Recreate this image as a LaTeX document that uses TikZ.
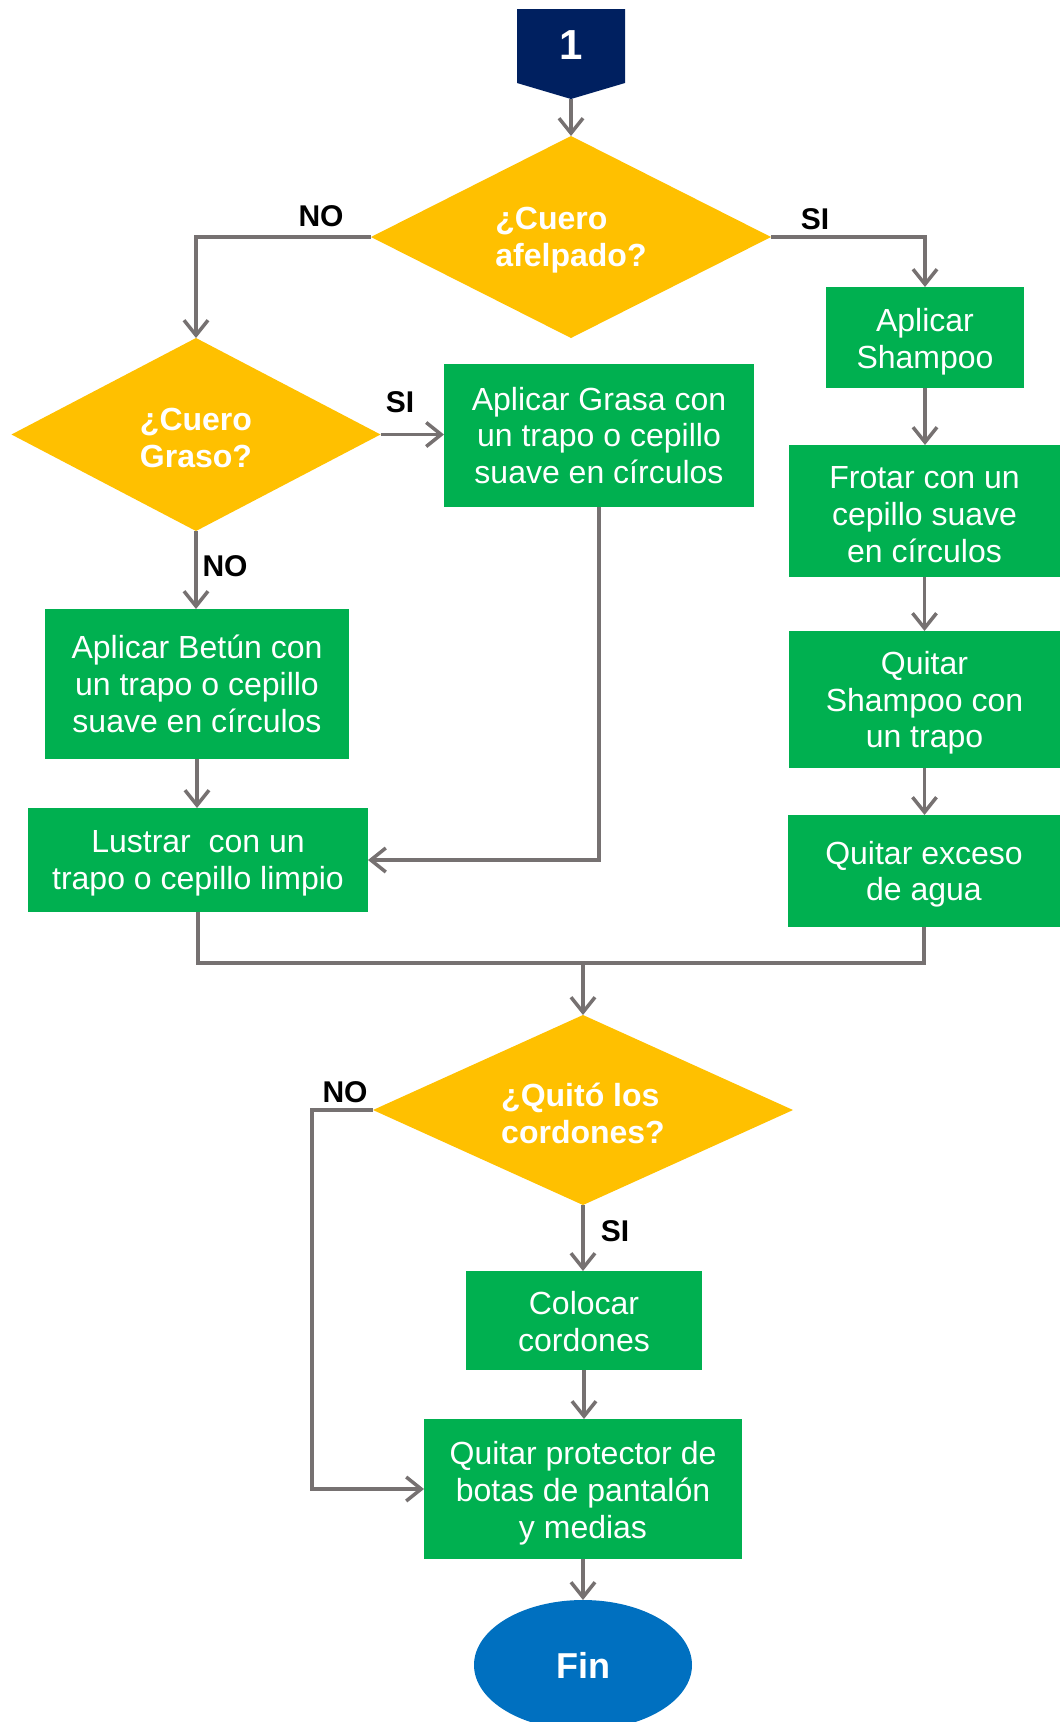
\documentclass[tikz,border=0pt]{standalone}
\usepackage{fontspec}
\setmainfont{Liberation Sans}
\usetikzlibrary{shapes.geometric,arrows.meta}
\definecolor{flowgreen}{HTML}{00B050}
\definecolor{flowyellow}{HTML}{FFC000}
\definecolor{flownavy}{HTML}{002060}
\definecolor{flowblue}{HTML}{0070C0}
\definecolor{flowgrey}{RGB}{118,113,113}
% a green process box: [text drop], name, centre, width, height, text
\newcommand\flowstep[6][0pt]{%
  \node[stepbox, minimum width=#4, minimum height=#5] (#2) at (#3) {};
  \node[steptext, yshift=-#1] (#2-text) at (#2.center) {#6};}
% a yellow decision: name, centre, width, height, text
\newcommand\flowask[5]{%
  \node[decision, minimum width=#3, minimum height=#4] (#1) at (#2) {};
  \node[asktext] (#1-text) at (#1.center) {#5};}
\begin{document}
\begin{tikzpicture}[x=1pt,y=-1pt,
  stepbox/.style={rectangle, fill=flowgreen, inner sep=0pt, outer sep=0pt},
  steptext/.style={text=white, align=center, inner sep=0pt,
    font=\fontsize{32}{36.7}\selectfont},
  decision/.style={diamond, fill=flowyellow, inner sep=0pt, outer sep=0pt},
  asktext/.style={text=white, align=left, inner sep=0pt, yshift=-3pt,
    font=\bfseries\fontsize{32}{37}\selectfont},
  answer/.style={text=black, inner sep=0pt, font=\bfseries\fontsize{30}{32}\selectfont},
  flow/.style={draw=flowgrey, line width=3.5pt},
  arr/.style={flow, -{Straight Barb[length=15pt,width=24pt]}}]
\useasboundingbox (0,0) rectangle (1060,1722);

% start connector
\fill[flownavy] (517,9) -- (625,9) -- (625,83) -- (571,99) -- (517,83) -- cycle;
\node[text=white, font=\bfseries\fontsize{42}{44}\selectfont] (start) at (571,45) {1};
\coordinate (starttip) at (571,99);

% decisions
\flowask{d1}{571,237}{400pt}{202pt}{¿Cuero\\afelpado?}
\flowask{d2}{196,434.5}{369pt}{193pt}{¿Cuero\\Graso?}
\flowask{d3}{583,1110}{420pt}{190pt}{¿Quitó los\\cordones?}

% right branch
\flowstep[4.4pt]{shampoo}{925,337.5}{198pt}{101pt}{Aplicar\\Shampoo}
\flowstep[3.8pt]{frotar}{924.5,511}{271pt}{132pt}{Frotar con un\\cepillo suave\\en círculos}
\flowstep[3.3pt]{qshampoo}{924.5,699.5}{271pt}{137pt}{Quitar\\Shampoo con\\un trapo}
\flowstep[3.3pt]{qexceso}{924,871}{272pt}{112pt}{Quitar exceso\\de agua}

% left branch
\flowstep{grasa}{599,435.5}{310pt}{143pt}{Aplicar Grasa con\\un trapo o cepillo\\suave en círculos}
\flowstep{betun}{197,684}{304pt}{150pt}{Aplicar Betún con\\un trapo o cepillo\\suave en círculos}
\flowstep[3.3pt]{lustrar}{198,860}{340pt}{104pt}{Lustrar\ \ con un\\trapo o cepillo limpio}

% final steps
\flowstep[1.1pt]{colocar}{584,1320.5}{236pt}{99pt}{Colocar\\cordones}
\flowstep[4.4pt]{protector}{583,1489}{318pt}{140pt}{Quitar protector de\\botas de pantalón\\y medias}
\node[ellipse, fill=flowblue, text=white, inner sep=0pt, outer sep=0pt, minimum width=218pt, minimum height=130pt,
  font=\bfseries\fontsize{36}{38}\selectfont] (fin) at (583,1665) {Fin};

% answer labels
\node[answer] (no1) at (321,216) {NO};
\node[answer] (si1) at (815,219) {SI};
\node[answer] (si2) at (400,402) {SI};
\node[answer] (no2) at (225,566) {NO};
\node[answer] (no3) at (345,1092) {NO};
\node[answer] (si3) at (615,1231) {SI};

% routing points
\coordinate (merge) at (583,963);
\coordinate (nobend) at (312,1110);

% connectors
\draw[arr] (starttip) -- (d1.north);
\draw[arr] (d1.west) -| (d2.north);
\draw[arr] (d1.east) -| (shampoo.north);
\draw[arr] (d2.east) -- (d2.east -| grasa.west);
\draw[arr] (d2.south) -- (d2.south |- betun.north);
\draw[arr] (betun.south) -- (betun.south |- lustrar.north);
\draw[arr] (grasa.south) |- (lustrar.east);
\draw[arr] (shampoo.south) -- (shampoo.south |- frotar.north);
\draw[arr] (frotar.south) -- (frotar.south |- qshampoo.north);
\draw[arr] (qshampoo.south) -- (qshampoo.south |- qexceso.north);
\draw[flow] (lustrar.south) |- (merge) -| (qexceso.south);
\draw[arr] (merge) -- (d3.north);
\draw[arr] (d3.west) -- (d3.west -| nobend) |- (protector.west);
\draw[arr] (d3.south) -- (d3.south |- colocar.north);
\draw[arr] (colocar.south) -- (colocar.south |- protector.north);
\draw[arr] (protector.south) -- (fin.north);
\end{tikzpicture}
\end{document}
